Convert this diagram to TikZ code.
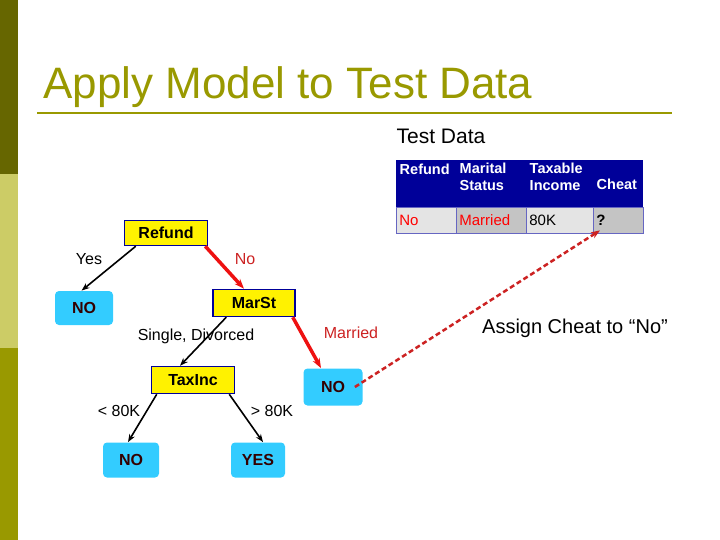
\documentclass[tikz,border=0pt]{standalone}
\usepackage{fontspec}
\setmainfont{Liberation Sans}
\usetikzlibrary{arrows.meta}
\definecolor{olivedark}{HTML}{666600}
\definecolor{olivelight}{HTML}{CCCC66}
\definecolor{olivemid}{HTML}{999900}
\definecolor{navy}{HTML}{000099}
\definecolor{leafblue}{HTML}{33CCFF}
\definecolor{pathred}{HTML}{EE1111}
\definecolor{dashred}{HTML}{CC2222}
\definecolor{cellA}{HTML}{E4E4E4}
\definecolor{cellB}{HTML}{C4C4C4}
\begin{document}
\begin{tikzpicture}[x=1pt,y=-1pt,thick,
  test/.style={draw=navy,fill=yellow,line width=1.5pt,font=\fontsize{16}{18}\selectfont\bfseries,inner sep=0pt},
  leaf/.style={fill=leafblue,rounded corners=4pt,font=\fontsize{16}{18}\selectfont\bfseries,text=black!80!red,inner sep=0pt},
  lbl/.style={font=\fontsize{16}{18}\selectfont},
  head/.style={fill=navy,text=white,font=\fontsize{14.5}{17}\selectfont\bfseries,align=left,anchor=west},
  cell/.style={draw=navy!60,minimum height=26pt,font=\fontsize{15}{17}\selectfont,anchor=west,inner xsep=3pt,text width=#1,align=left},
  edge/.style={-{Stealth[length=8pt]},line width=1.6pt},
  redge/.style={-{Stealth[length=10pt]},line width=3.5pt,draw=pathred}]
\useasboundingbox (0,0) rectangle (720,540);
% side bar
\fill[olivedark] (0,0) rectangle (18,174);
\fill[olivelight] (0,174) rectangle (18,348);
\fill[olivemid] (0,348) rectangle (18,540);
% title
\node[anchor=base west,text=olivemid,font=\fontsize{44}{48}\selectfont,inner sep=0pt] (title) at (43,99) {Apply Model to Test Data};
\draw[olivemid,line width=2.5pt] (37,113) -- (672,113);
% test record
\node[font=\fontsize{21}{23}\selectfont] (tdata) at (441,136) {Test Data};
\fill[navy] (396,160) rectangle (643,207);
\node[head] (h1) at (396,169) {Refund};
\node[head] (h2) at (456,177) {Marital\\Status};
\node[head] (h3) at (526,177) {Taxable\\Income};
\node[head] (h4) at (593,184) {Cheat};
\node[cell=54pt,fill=cellA,text=red] (c1) at (396,220) {No};
\node[cell=64pt,fill=cellB,text=red] (c2) at (456,220) {Married};
\node[cell=61pt,fill=cellA] (c3) at (526,220) {80K};
\node[cell=44pt,fill=cellB] (c4) at (593,220) {\textbf{?}};
% tree
\node[test,minimum width=83pt,minimum height=25pt] (refund) at (166,233) {Refund};
\node[leaf,minimum width=58pt,minimum height=34pt] (no1) at (84,308) {NO};
\node[test,minimum width=82pt,minimum height=27pt] (marst) at (254,303) {MarSt};
\node[test,minimum width=83pt,minimum height=27pt] (taxinc) at (193,380) {TaxInc};
\node[leaf,minimum width=59pt,minimum height=37pt] (no2) at (333,387) {NO};
\node[leaf,minimum width=56pt,minimum height=35pt] (no3) at (131,460) {NO};
\node[leaf,minimum width=54pt,minimum height=35pt] (yes) at (258,460) {YES};
\draw[edge] ([xshift=12pt]refund.south west) -- ([xshift=27pt]no1.north west);
\draw[redge] ([xshift=-3pt]refund.south east) -- ([xshift=-10pt]marst.north);
\draw[edge] ([xshift=14pt]marst.south west) -- ([xshift=-13pt]taxinc.north);
\draw[redge] ([xshift=-3pt]marst.south east) -- ([xshift=-12pt]no2.north);
\draw[edge] ([xshift=6pt]taxinc.south west) -- ([xshift=-3pt]no3.north);
\draw[edge] ([xshift=-6pt]taxinc.south east) -- ([xshift=5pt]yes.north);
\node[lbl] (lyes) at (89,259) {Yes};
\node[lbl,text=dashred] (lno) at (245,259) {No};
\node[lbl] (lsd) at (196,336) {Single, Divorced};
\node[lbl,text=dashred] (lmar) at (351,333) {Married};
\node[lbl] (llt) at (119,411) {< 80K};
\node[lbl] (lgt) at (272,411) {> 80K};
% assignment
\node[font=\fontsize{20}{22}\selectfont] (assign) at (575,328) {Assign Cheat to “No”};
\draw[dashred,line width=2.5pt,dash pattern=on 5pt off 3pt,-{Stealth[length=9pt]}] ([xshift=-8pt]no2.east) -- ([xshift=7pt,yshift=3pt]c4.south west);
\end{tikzpicture}
\end{document}
